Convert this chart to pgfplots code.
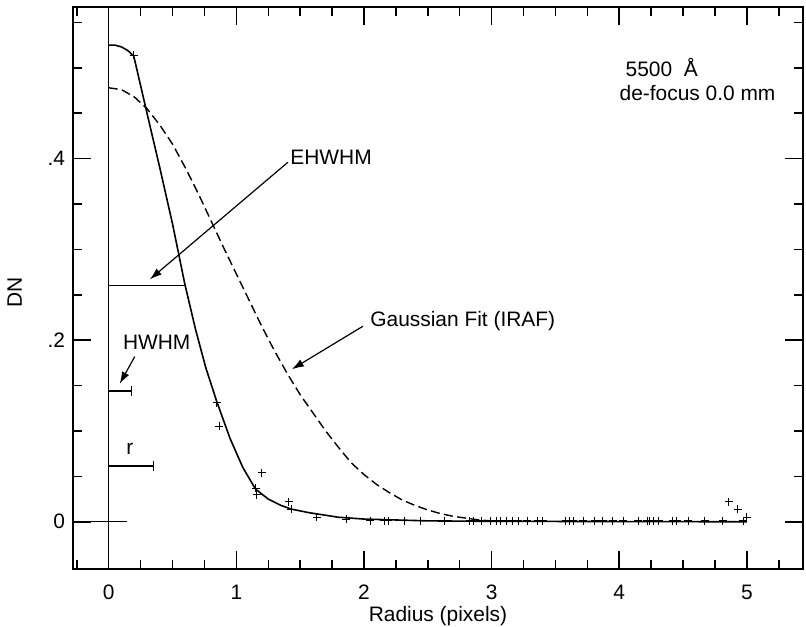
\documentclass[border=0pt]{standalone}
\usepackage{pgfplots}
\pgfplotsset{compat=1.18}
\usepackage{fontspec}
\setmainfont{Liberation Sans}
\usetikzlibrary{arrows.meta}
\begin{document}
\begin{tikzpicture}[font=\fontsize{10.5}{12.5}\selectfont]
\begin{axis}[name=ax, scale only axis, width=365bp, height=281bp,
  xmin=-0.28, xmax=5.44, ymin=-0.052, ymax=0.567,
  clip=false,
  axis line style={line width=1bp},
  tick align=inside,
  xtick={0,1,2,3,4,5}, xticklabels={0,1,2,3,4,5},
  minor xtick={-0.25,0.25,0.5,0.75,1.25,1.5,1.75,2.25,2.5,2.75,3.25,3.5,3.75,4.25,4.5,4.75,5.25},
  ytick={0,0.2,0.4}, yticklabels={0,.2,.4},
  minor ytick={0.05,0.1,0.15,0.25,0.3,0.35,0.45,0.5,0.55},
  major tick length=9bp, minor tick length=4.5bp,
  every tick/.style={line width=0.75bp, black},
  xticklabel style={yshift=-4.5bp},
  yticklabel style={xshift=-0.5bp},
]
% reference lines
\addplot[line width=0.6bp] coordinates {(0,-0.052) (0,0.567)};
\addplot[line width=0.6bp] coordinates {(-0.28,0) (0.14,0)};
\addplot[line width=0.6bp] coordinates {(5.325,0) (5.44,0)};
% measured profile (solid)
\addplot[line width=0.8bp, black] coordinates {
(0,0.525) (0.05,0.525) (0.1,0.523) (0.15,0.519) (0.196,0.513)
(0.3,0.45) (0.4,0.39) (0.5,0.328) (0.596,0.262) (0.68,0.212)
(0.76,0.17) (0.845,0.133) (0.95,0.092) (1.05,0.06) (1.15,0.036)
(1.25,0.025) (1.35,0.018) (1.43,0.014) (1.57,0.010) (1.8,0.005)
(2.0,0.003) (2.5,0.001) (3.0,0.0005) (5.0,0.0)};
% Gaussian fit (dashed)
\addplot[line width=0.7bp, black, dash pattern=on 4.5bp off 2.2bp] coordinates {
(0,0.478) (0.1,0.476) (0.2,0.468) (0.3,0.455) (0.4,0.437) (0.5,0.416)
(0.6,0.39) (0.7,0.362) (0.8,0.332) (0.9,0.302) (1.0,0.273) (1.1,0.244)
(1.2,0.215) (1.3,0.188) (1.4,0.163) (1.5,0.14) (1.6,0.12) (1.7,0.10)
(1.8,0.082) (1.9,0.065) (2.0,0.052) (2.1,0.041) (2.2,0.032) (2.3,0.024)
(2.4,0.018) (2.5,0.013) (2.6,0.009) (2.7,0.006) (2.8,0.004) (2.9,0.002)
(3.0,0.001)};
% data points
\addplot[only marks, mark=+, mark size=2bp, mark options={line width=0.5bp}] coordinates {
(0.196,0.514) (0.845,0.131) (0.864,0.105) (1.15,0.037) (1.16,0.030)
(1.2,0.054) (1.41,0.022) (1.43,0.014) (1.63,0.005) (1.86,0.003)
(2.05,0.001) (2.16,0.001) (2.19,0.001) (2.32,0.001) (2.44,0.001)
(2.63,0.001) (2.83,0.001) (2.86,0.001) (2.92,0.001) (2.99,0.001)
(3.04,0.001) (3.07,0.001) (3.12,0.001) (3.16,0.001) (3.21,0.001)
(3.28,0.001) (3.36,0.001) (3.40,0.001) (3.58,0.001) (3.61,0.001)
(3.64,0.001) (3.72,0.001) (3.81,0.001) (3.87,0.001) (3.95,0.001)
(4.03,0.001) (4.15,0.001) (4.22,0.001) (4.24,0.001) (4.27,0.001)
(4.31,0.001) (4.42,0.001) (4.45,0.001) (4.54,0.001) (4.67,0.001)
(4.81,0.001) (4.97,0.001) (4.86,0.022) (4.93,0.014) (5.0,0.005)};
% width markers
\addplot[line width=0.6bp] coordinates {(0,0.2604) (0.596,0.2604)};
\addplot[line width=0.6bp, -{Bar[width=5bp,line width=0.6bp]}] coordinates {(0,0.144) (0.18,0.144)};
\addplot[line width=0.6bp, -{Bar[width=5bp,line width=0.6bp]}] coordinates {(0,0.0615) (0.355,0.0615)};
% annotations
\node[anchor=west, inner sep=0] at (axis cs:4.047,0.5) {5500\ \ Å};
\node[anchor=west, inner sep=0] at (axis cs:4.0,0.4725) {de-focus 0.0 mm};
\node[anchor=west, inner sep=0] at (axis cs:1.42,0.401) {EHWHM};
\draw[line width=0.6bp, -{Latex[length=6bp,width=4bp]}] (axis cs:1.404,0.396) -- (axis cs:0.322,0.267);
\node[anchor=west, inner sep=0] at (axis cs:2.047,0.221) {Gaussian Fit (IRAF)};
\draw[line width=0.6bp, -{Latex[length=6bp,width=4bp]}] (axis cs:1.992,0.2154) -- (axis cs:1.435,0.168);
\node[inner sep=0] at (axis cs:0.376,0.198) {HWHM};
\draw[line width=0.6bp, -{Latex[length=6bp,width=4bp]}] (axis cs:0.204,0.182) -- (axis cs:0.086,0.152);
\node[inner sep=0] at (axis cs:0.165,0.080) {r};
\node[rotate=90, inner sep=0] at (axis cs:-0.737,0.253) {DN};
\node[inner sep=0] at (axis cs:2.58,-0.1035) {Radius (pixels)};
\end{axis}
\pgfresetboundingbox
\path ([shift={(-36.5bp,-29bp)}]ax.south west) rectangle ([shift={(1.5bp,3.5bp)}]ax.north east);
\end{tikzpicture}
\end{document}
